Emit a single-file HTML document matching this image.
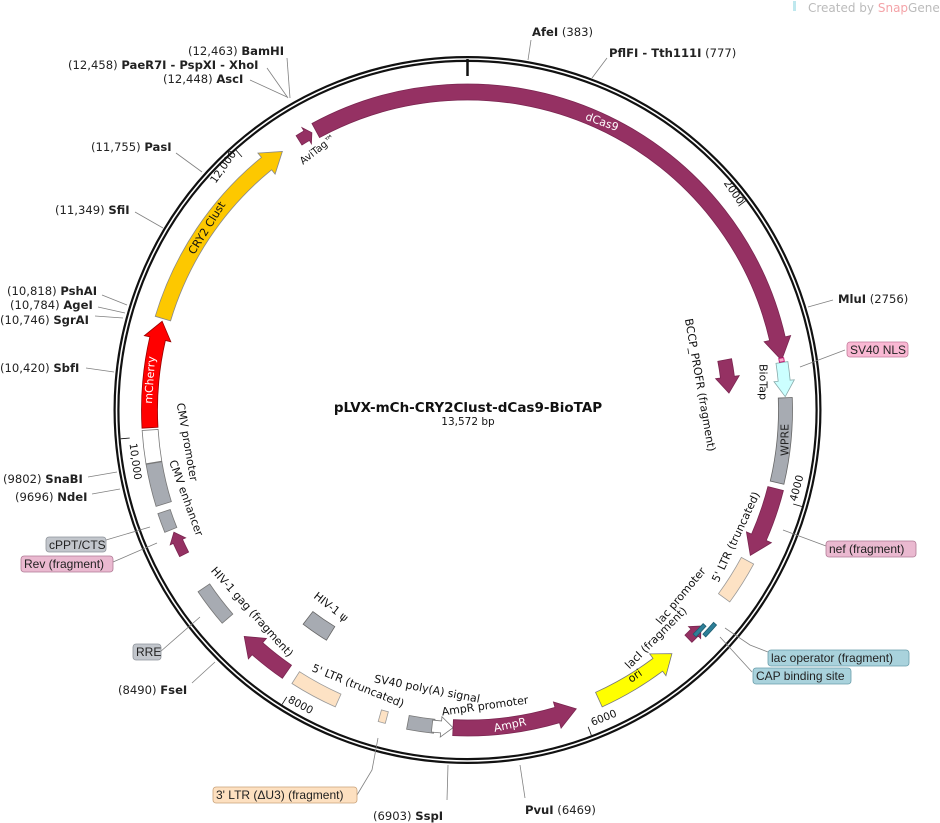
<!DOCTYPE html>
<html><head><meta charset="utf-8">
<style>
html,body{margin:0;padding:0;background:#fff;}
svg{display:block;font-family:"DejaVu Sans","Liberation Sans",sans-serif;}
.e{font-size:11.6px;fill:#222;}
.b{font-weight:bold;}
.l{stroke:#808080;stroke-width:0.8;fill:none;}
.f{font-size:11px;fill:#111;}
</style></head><body>
<svg id="s" width="940" height="823" viewBox="0 0 940 823" xmlns="http://www.w3.org/2000/svg">
<text x="808" y="12" style="font-size:12px" fill="#bbb">Created by <tspan fill="#f4a3a8">Snap</tspan>Gene</text>
<rect x="793" y="1" width="3" height="10" fill="#bfe8ee"/>
<circle cx="467.5" cy="410" r="351" fill="none" stroke="#111" stroke-width="6"/>
<circle cx="467.5" cy="410" r="351" fill="none" stroke="#fff" stroke-width="1.6"/>
<line x1="467.5" y1="59" x2="467.5" y2="76" stroke="#111" stroke-width="2.5"/>
<g id="feat"></g>
<path class="l" d="M287,58 L290,98"/>
<path class="l" d="M267,68 L288,98"/>
<path class="l" d="M250,80 L287,97"/>
<path class="l" d="M176,153 L202,172"/>
<path class="l" d="M135,212 L163,228"/>
<path class="l" d="M102,295 L127,305"/>
<path class="l" d="M98,307 L125,313"/>
<path class="l" d="M95,316 L123,318"/>
<path class="l" d="M86,368 L114,372"/>
<path class="l" d="M88,477 L117,472"/>
<path class="l" d="M92,494 L120,489"/>
<path class="l" d="M192,683 L215,662"/>
<path class="l" d="M447,800 L448,765"/>
<path class="l" d="M525,798 L520,765"/>
<path class="l" d="M531,40 L528,60"/>
<path class="l" d="M607,58 L592,78"/>
<path class="l" d="M833,300 L808,307"/>
<path class="l" d="M800,367 L845,350"/>
<path class="l" d="M783,530 L826,546"/>
<path class="l" d="M725,628 L750,645 L768,652"/>
<path class="l" d="M720,637 L752,672"/>
<path class="l" d="M150,527 L106,540"/>
<path class="l" d="M157,543 L113,562"/>
<path class="l" d="M200,617 L160,652"/>
<path class="l" d="M378,738 L372,770 L357,795"/>
<text class="e" x="188" y="55">(12,463)  <tspan class="b">BamHI</tspan></text>
<text class="e" x="68" y="69">(12,458)  <tspan class="b">PaeR7I - PspXI - XhoI</tspan></text>
<text class="e" x="163" y="83">(12,448)  <tspan class="b">AscI</tspan></text>
<text class="e" x="91" y="151">(11,755)  <tspan class="b">PasI</tspan></text>
<text class="e" x="55" y="214">(11,349)  <tspan class="b">SfiI</tspan></text>
<text class="e" x="7" y="295">(10,818)  <tspan class="b">PshAI</tspan></text>
<text class="e" x="10" y="309">(10,784)  <tspan class="b">AgeI</tspan></text>
<text class="e" x="0" y="324">(10,746)  <tspan class="b">SgrAI</tspan></text>
<text class="e" x="0" y="372">(10,420)  <tspan class="b">SbfI</tspan></text>
<text class="e" x="3" y="483">(9802)  <tspan class="b">SnaBI</tspan></text>
<text class="e" x="15" y="501">(9696)  <tspan class="b">NdeI</tspan></text>
<text class="e" x="118" y="694">(8490)  <tspan class="b">FseI</tspan></text>
<text class="e" x="373" y="820">(6903)  <tspan class="b">SspI</tspan></text>
<text class="e" x="525" y="814"><tspan class="b">PvuI</tspan>  (6469)</text>
<text class="e" x="532" y="36"><tspan class="b">AfeI</tspan>  (383)</text>
<text class="e" x="609" y="57"><tspan class="b">PflFI - Tth111I</tspan>  (777)</text>
<text class="e" x="838" y="303"><tspan class="b">MluI</tspan>  (2756)</text>
<rect x="847" y="342" width="61" height="15" rx="3" fill="#f9b8d3" stroke="#c47a9a" stroke-width="0.8"/>
<text class="e" x="850" y="354" style="font-family:'Liberation Sans',sans-serif;font-size:12px">SV40 NLS</text>
<rect x="826" y="541" width="90" height="16" rx="3" fill="#eab9d0" stroke="#b07a95" stroke-width="0.8"/>
<text class="e" x="829" y="553" style="font-family:'Liberation Sans',sans-serif;font-size:12px">nef (fragment)</text>
<rect x="768" y="650" width="141" height="16" rx="3" fill="#a9d2dc" stroke="#6a9eab" stroke-width="0.8"/>
<text class="e" x="771" y="662" style="font-family:'Liberation Sans',sans-serif;font-size:12px">lac operator (fragment)</text>
<rect x="753" y="668" width="98" height="16" rx="3" fill="#a9d2dc" stroke="#6a9eab" stroke-width="0.8"/>
<text class="e" x="756" y="680" style="font-family:'Liberation Sans',sans-serif;font-size:12px">CAP binding site</text>
<rect x="46" y="537" width="60" height="15" rx="3" fill="#c2c6cc" stroke="#8f949b" stroke-width="0.8"/>
<text class="e" x="49" y="549" style="font-family:'Liberation Sans',sans-serif;font-size:12px">cPPT/CTS</text>
<rect x="21" y="556" width="92" height="16" rx="3" fill="#eab9d0" stroke="#b07a95" stroke-width="0.8"/>
<text class="e" x="24" y="568" style="font-family:'Liberation Sans',sans-serif;font-size:12px">Rev (fragment)</text>
<rect x="133" y="644" width="28" height="16" rx="3" fill="#c2c6cc" stroke="#8f949b" stroke-width="0.8"/>
<text class="e" x="136" y="656" style="font-family:'Liberation Sans',sans-serif;font-size:12px">RRE</text>
<rect x="213" y="787" width="144" height="16" rx="3" fill="#fde0c0" stroke="#c9a27a" stroke-width="0.8"/>
<text class="e" x="216" y="799" style="font-family:'Liberation Sans',sans-serif;font-size:12px">3' LTR (ΔU3) (fragment)</text>
<text x="468" y="412" text-anchor="middle" style="font-size:13.5px;font-weight:bold" fill="#111">pLVX-mCh-CRY2Clust-dCas9-BioTAP</text>
<text x="468" y="425" text-anchor="middle" style="font-size:10.5px" fill="#111">13,572 bp</text>
<g style="font-size:10.5px" fill="#111" text-anchor="middle">
<text transform="translate(731,194) rotate(55)">2000</text>
<text transform="translate(800,489) rotate(-75)">4000</text>
<text transform="translate(605,721) rotate(-22)">6000</text>
<text transform="translate(299,708) rotate(28)">8000</text>
<text transform="translate(132,462) rotate(82)">10,000</text>
<text transform="translate(226,169) rotate(-55)">12,000</text>
</g>
<g class="f" text-anchor="middle" dominant-baseline="central">
<text transform="translate(602,122) rotate(20)" fill="#fff">dCas9</text>
<text transform="translate(318,150) rotate(-38)" style="font-size:10px">AviTag™</text>
<text transform="translate(207,228) rotate(-58)">CRY2 Clust</text>
<text transform="translate(150,380) rotate(-86)" fill="#fff">mCherry</text>
<text transform="translate(187,442) rotate(80)">CMV promoter</text>
<text transform="translate(186,498) rotate(70)">CMV enhancer</text>
<text transform="translate(252,612) rotate(48)">HIV-1 gag (fragment)</text>
<text transform="translate(331,607) rotate(38)">HIV-1 ψ</text>
<text transform="translate(358,686) rotate(22)">5' LTR (truncated)</text>
<text transform="translate(427,689) rotate(11)">SV40 poly(A) signal</text>
<text transform="translate(485,706) rotate(-8)">AmpR promoter</text>
<text transform="translate(510,725) rotate(-12)" fill="#fff">AmpR</text>
<text transform="translate(635,676) rotate(-35)">ori</text>
<text transform="translate(656,638) rotate(-45)">lacI (fragment)</text>
<text transform="translate(681,596) rotate(-50)">lac promoter</text>
<text transform="translate(736,537) rotate(-65)">5' LTR (truncated)</text>
<text transform="translate(785,440) rotate(-90)" fill="#222">WPRE</text>
<text transform="translate(763,382) rotate(90)">BioTap</text>
<text transform="translate(700,385) rotate(80)">BCCP_PROFR (fragment)</text>
</g>
</svg>
<script>
(function(){
var cx=467.5,cy=410,NS="http://www.w3.org/2000/svg",g=document.getElementById("feat");
function P(r,a){var t=a*Math.PI/180;return (cx+r*Math.sin(t)).toFixed(2)+","+(cy-r*Math.cos(t)).toFixed(2);}
function A(r,a1,a2){var la=Math.abs(a2-a1)>180?1:0,sw=a2>a1?1:0;return "A"+r+","+r+" 0 "+la+" "+sw+" "+P(r,a2);}
function add(d,fill,stroke){var p=document.createElementNS(NS,"path");p.setAttribute("d",d);p.setAttribute("fill",fill);p.setAttribute("stroke",stroke||"#666");p.setAttribute("stroke-width","0.8");g.appendChild(p);}
function box(r,w,a1,a2,fill,st){var o=r+w/2,i=r-w/2;add("M"+P(o,a1)+A(o,a1,a2)+"L"+P(i,a2)+A(i,a2,a1)+"Z",fill,st);}
function arrow(r,w,a1,a2,cw,fill,st,hl){hl=hl||17;var hd=hl/r*180/Math.PI,o=r+w/2,i=r-w/2,hw=w*0.85;
 if(cw){var n=Math.max(a1,a2-hd);var d="M"+P(o,a1)+(n>a1?A(o,a1,n):"")+"L"+P(r+hw,n)+"L"+P(r,a2)+"L"+P(r-hw,n)+"L"+P(i,n)+(n>a1?A(i,n,a1):"")+"Z";add(d,fill,st);}
 else{var n=Math.min(a2,a1+hd);var d="M"+P(o,a2)+(n<a2?A(o,a2,n):"")+"L"+P(r+hw,n)+"L"+P(r,a1)+"L"+P(r-hw,n)+"L"+P(i,n)+(n<a2?A(i,n,a2):"")+"Z";add(d,fill,st);}}
var M="#953163",G="#a7abb2",PE="#fde2c4";
var R=318,W=16;
[2000,4000,6000,8000,10000,12000].forEach(function(b){var a=b/13572*360;add("M"+P(348,a)+"L"+P(339,a),"none","#111");});
arrow(R,W,-28.5,81,true,M,"#7a2550",22);
arrow(R,11,-32,-29.3,true,M,"#7a2550",6);
arrow(R,W,-73.3,-35.6,true,"#fdc800","#888",20);
arrow(R,W,-93.2,-73.8,true,"#ff0000","#900",18);
box(R,W,-99.5,-93.6,"#fff","#777");
box(R,W,-107.2,-99.6,G,"#777");
box(R+2,13,-112,-108.5,G,"#777");
arrow(R,10,-117,-112.6,true,M,"#7a2550",10);
box(R,14,-131,-124,G,"#777");
arrow(R,W,-145.4,-135.4,true,M,"#7a2550",18);
box(R,14,-156,-147.3,PE,"#999");
box(R,12,-165.3,-164,PE,"#999");
box(R,14,-174,-169.2,G,"#777");
arrow(R,12,182.6,186.4,false,"#fff","#777",12);
arrow(R,W,160,182.6,false,M,"#7a2550",20);
arrow(R,W,140,155.6,false,"#ffff00","#777",18);
arrow(R,10,132.8,136,false,M,"#7a2550",9);
box(R+9,4,130.8,133.6,"#2e7f98","#1d5d70");
box(R+2,4,132.2,134.8,"#2e7f98","#1d5d70");
box(R,14,118.3,126.2,PE,"#999");
arrow(R,W,104.3,117.2,true,M,"#7a2550",20);
box(R,14,87.8,103.2,G,"#666");
arrow(R,12,81.4,87.6,true,"#ccffff","#8aa",16);
box(R,5,80.6,81.3,"#f7a8c8","#b06");
arrow(262,14,79,86.3,true,M,"#7a2550",16);
box(262,16,-148.5,-142.5,G,"#666");
})();
</script>
</body></html>
